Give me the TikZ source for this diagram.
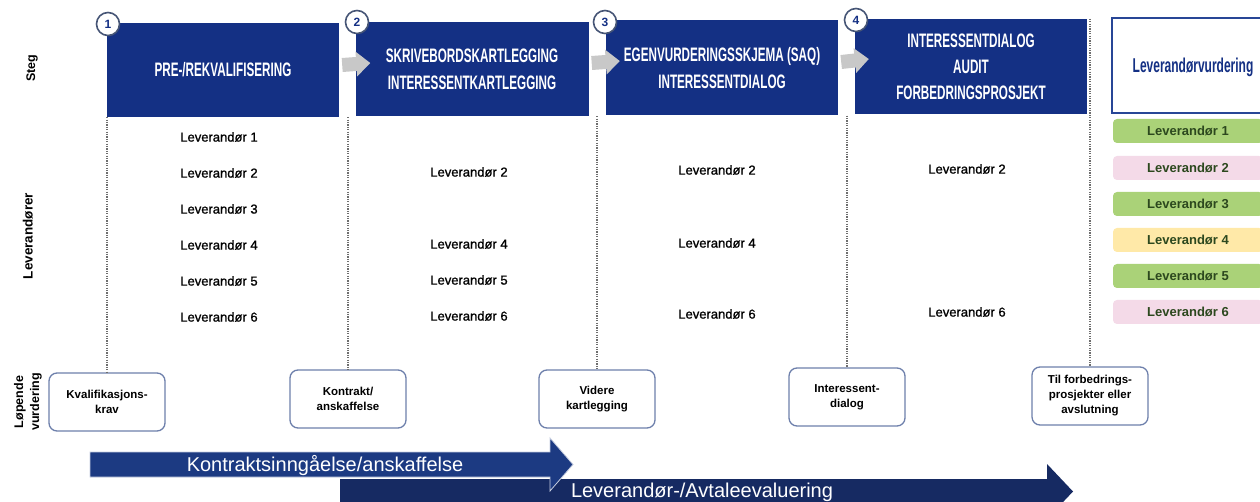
\documentclass[tikz,border=0pt]{standalone}
\usepackage{fontspec}
\setmainfont{Liberation Sans}
\newfontfamily\condfont{Liberation Sans}[FakeStretch=0.6]
\newfontfamily\medfont{Liberation Sans}[FakeBold=1]
\usetikzlibrary{arrows.meta}
\definecolor{stepblue}{RGB}{20,48,132}
\definecolor{circgray}{RGB}{70,85,118}
\definecolor{arrgray}{RGB}{200,200,200}
\definecolor{arrA}{RGB}{28,58,130}
\definecolor{arrB}{RGB}{22,42,98}
\definecolor{qborder}{RGB}{110,128,172}
\definecolor{dotgray}{RGB}{110,110,110}
\definecolor{barGreen}{RGB}{170,210,120}
\definecolor{barPink}{RGB}{244,218,232}
\definecolor{barYellow}{RGB}{255,233,168}
\definecolor{darkgreen}{RGB}{44,72,30}
\definecolor{vurblue}{RGB}{40,70,150}
\begin{document}
\begin{tikzpicture}[x=1pt,y=-1pt,
  stepbox/.style={fill=stepblue, draw=none, text=white, align=center, inner sep=0pt,
    font=\condfont\bfseries\fontsize{19.5}{27}\selectfont},
  numcirc/.style={circle, draw=circgray, line width=1.6pt, fill=white, minimum size=23pt,
    inner sep=0pt, text=stepblue, font=\bfseries\fontsize{12}{12}\selectfont},
  greyarr/.style={draw=arrgray, line width=14pt, -{Triangle[width=24pt,length=14pt]}},
  lev/.style={font=\medfont\fontsize{13}{13}\selectfont, text=black, inner sep=1pt},
  rbar/.style={minimum width=150pt, minimum height=24pt, rounded corners=4pt, inner sep=0pt,
    text=darkgreen, font=\bfseries\fontsize{13}{13}\selectfont},
  qbox/.style={draw=qborder, line width=1.3pt, rounded corners=8pt, fill=white,
    minimum width=116pt, minimum height=58pt, align=center, inner sep=1pt,
    font=\bfseries\fontsize{11.5}{15}\selectfont},
  dotline/.style={draw=dotgray, line width=1.3pt, dash pattern=on 1.2pt off 1.2pt},
  rowlab/.style={rotate=90, align=center, font=\bfseries\fontsize{12.5}{16}\selectfont},
  arrtext/.style={text=white, font=\fontsize{20}{20}\selectfont, inner sep=0pt}
]
\clip (0,0) rectangle (1260,502);
\fill[white] (0,0) rectangle (1260,502);

% row labels
\node[rowlab] (lsteg) at (32,68) {Steg};
\node[rowlab, font=\bfseries\fontsize{13.5}{16}\selectfont] (llev) at (28,236) {Leverandører};
\node[rowlab] (lvur) at (28,402) {Løpende\\vurdering};

% step boxes
\node[stepbox, minimum width=232pt, minimum height=94pt] (s1) at (223,70) {PRE-/REKVALIFISERING};
\node[stepbox, minimum width=233pt, minimum height=94pt] (s2) at (472,69) {SKRIVEBORDSKARTLEGGING\\INTERESSENTKARTLEGGING};
\node[stepbox, minimum width=232pt, minimum height=95pt] (s3) at (722,68) {EGENVURDERINGSSKJEMA (SAQ)\\INTERESSENTDIALOG};
\node[stepbox, minimum width=232pt, minimum height=95pt, font=\condfont\bfseries\fontsize{19.5}{26}\selectfont] (s4) at (971,66.5) {INTERESSENTDIALOG\\AUDIT\\FORBEDRINGSPROSJEKT};
\node[draw=vurblue, line width=1.5pt, fill=white, minimum width=162pt, minimum height=95pt,
  inner sep=0pt] (vur) at (1193,65.5) {};
\node[text=stepblue, font=\condfont\bfseries\fontsize{20}{20}\selectfont] (vurt) at (1193,67) {Leverandørvurdering};

% grey arrows between steps
\draw[greyarr] ([xshift=3pt,yshift=5pt]s1.east) -- ([xshift=15pt,yshift=6pt]s2.west);
\draw[greyarr] ([xshift=3pt,yshift=6pt]s2.east) -- ([xshift=14pt,yshift=7pt]s3.west);
\draw[greyarr] ([xshift=3pt,yshift=6pt]s3.east) -- ([xshift=14pt,yshift=7.5pt]s4.west);

% number circles
\node[numcirc] (n1) at (108,24) {1};
\node[numcirc] (n2) at (357,22) {2};
\node[numcirc] (n3) at (605,22) {3};
\node[numcirc] (n4) at (856,20) {4};

% lower boxes
\node[qbox] (q1) at (107,402) {Kvalifikasjons-\\krav};
\node[qbox] (q2) at (348,399) {Kontrakt/\\anskaffelse};
\node[qbox] (q3) at (597,399) {Videre\\kartlegging};
\node[qbox] (q4) at (847,397) {Interessent-\\dialog};
\node[qbox] (q5) at (1090,396) {Til forbedrings-\\prosjekter eller\\avslutning};

% dotted lines
\draw[dotline] (q1.north |- s1.south) -- (q1.north);
\draw[dotline] (q2.north |- s1.south) -- (q2.north);
\draw[dotline] (q3.north |- s2.south) -- (q3.north);
\draw[dotline] (q4.north |- s3.south) -- (q4.north);
\draw[dotline] (q5.north |- s4.north) -- (q5.north);

% suppliers column 1
\node[lev] (a1) at (219,137) {Leverandør 1};
\node[lev] (a2) at (219,173) {Leverandør 2};
\node[lev] (a3) at (219,209) {Leverandør 3};
\node[lev] (a4) at (219,245) {Leverandør 4};
\node[lev] (a5) at (219,281) {Leverandør 5};
\node[lev] (a6) at (219,317) {Leverandør 6};
% column 2
\node[lev] (b2) at (469,172) {Leverandør 2};
\node[lev] (b4) at (469,244) {Leverandør 4};
\node[lev] (b5) at (469,280) {Leverandør 5};
\node[lev] (b6) at (469,316) {Leverandør 6};
% column 3
\node[lev] (c2) at (717,170) {Leverandør 2};
\node[lev] (c4) at (717,243) {Leverandør 4};
\node[lev] (c6) at (717,314) {Leverandør 6};
% column 4
\node[lev] (d2) at (967,169) {Leverandør 2};
\node[lev] (d6) at (967,312) {Leverandør 6};

% right column bars
\node[rbar, fill=barGreen] (r1) at (1188,131) {Leverandør 1};
\node[rbar, fill=barPink] (r2) at (1188,168) {Leverandør 2};
\node[rbar, fill=barGreen] (r3) at (1188,204) {Leverandør 3};
\node[rbar, fill=barYellow] (r4) at (1188,240) {Leverandør 4};
\node[rbar, fill=barGreen] (r5) at (1188,276) {Leverandør 5};
\node[rbar, fill=barPink] (r6) at (1188,312) {Leverandør 6};

% bottom arrows
\fill[arrB] (340,479) -- (1047,479) -- (1047,464) -- (1073,491.5) -- (1047,519) -- (1047,504) -- (340,504) -- cycle;
\filldraw[fill=arrA, draw=white!75!arrA, line width=0.8pt] (90,452) -- (550,452) -- (550,438) -- (573,464.5) -- (550,491) -- (550,477) -- (90,477) -- cycle;
\node[arrtext, anchor=base] (ta) at (325,471) {Kontraktsinngåelse/anskaffelse};
\node[arrtext, anchor=base] (tb) at (702,497) {Leverandør-/Avtaleevaluering};
\end{tikzpicture}
\end{document}
